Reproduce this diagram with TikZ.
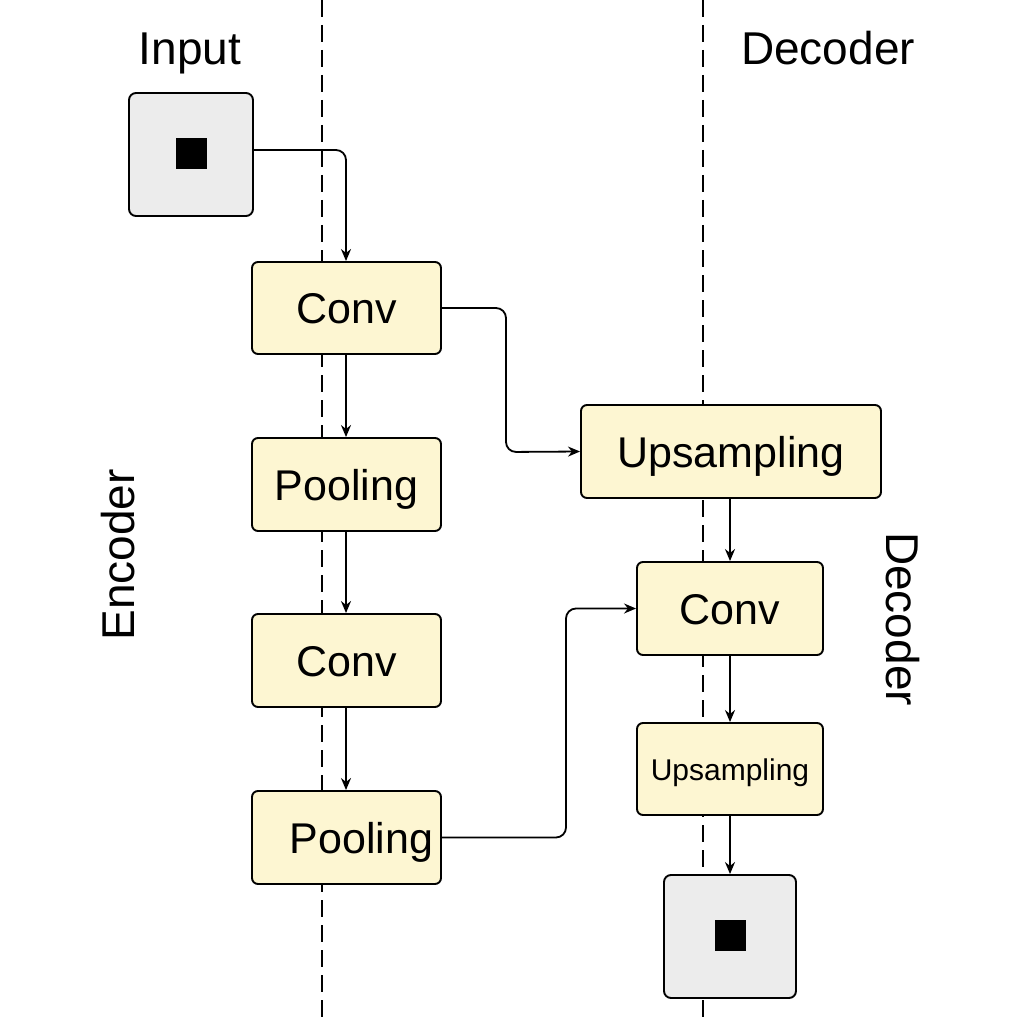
\documentclass[tikz,border=0pt]{standalone}
\usepackage{fontspec}
\setmainfont{Liberation Sans}
\usetikzlibrary{arrows.meta}
\definecolor{boxyellow}{HTML}{FDF6D2}
\definecolor{boxgray}{HTML}{ECECEC}
\begin{document}
\begin{tikzpicture}[x=1pt,y=-1pt,
  layer/.style={draw=black, line width=1.9pt, fill=boxyellow, rounded corners=6pt, inner sep=0pt, font=\fontsize{43}{47}\selectfont, text depth=0pt, text height=31pt},
  imgbox/.style={draw=black, line width=1.9pt, fill=boxgray, rounded corners=7pt, inner sep=0pt},
  pix/.style={fill=black, minimum size=31pt, inner sep=0pt},
  conn/.style={line width=1.8pt, rounded corners=10pt, -{Stealth[length=12pt,width=10pt]}},
  sep/.style={line width=1.3pt, dash pattern=on 17pt off 8pt},
  head/.style={font=\fontsize{46}{50}\selectfont, text depth=0pt, text height=33pt}
]
\useasboundingbox (0,0) rectangle (1024,1024);
\fill[white] (0,0) rectangle (1024,1024);
% separators
\coordinate (s1t) at (322,0); \coordinate (s1b) at (322,1024);
\coordinate (s2t) at (703,0); \coordinate (s2b) at (703,1024);
\draw[sep] (s1t) -- (s1b);
\draw[sep] (s2t) -- (s2b);
% headings
\node[head] (hin) at (190,48) {Input};
\node[head] (hdec) at (828,48) {Decoder};
\node[head, rotate=90] (henc) at (118,555) {Encoder};
\node[head, rotate=-90] (hdec2) at (903,619) {Decoder};
% input
\node[imgbox, minimum width=124pt, minimum height=123pt] (in) at (191,154.5) {};
\node[pix] (inpix) at (191.5,154) {};
% encoder
\node[layer, minimum width=189pt, minimum height=92pt] (c1) at (346.5,308) {Conv};
\node[layer, minimum width=189pt, minimum height=93pt] (p1) at (346.5,484.5) {Pooling};
\node[layer, minimum width=189pt, minimum height=93pt] (c2) at (346.5,660.5) {Conv};
\node[layer, minimum width=189pt, minimum height=93pt] (p2) at (346.5,837.5) {\hspace*{30pt}Pooling};
% decoder
\node[layer, minimum width=300pt, minimum height=93pt] (u1) at (731,451.5) {Upsampling};
\node[layer, minimum width=186pt, minimum height=93pt] (c3) at (730,608.5) {Conv};
\node[layer, minimum width=186pt, minimum height=92pt, font=\fontsize{30}{33}\selectfont, text height=22pt] (u2) at (730,769) {Upsampling};
\node[imgbox, minimum width=132pt, minimum height=123pt] (out) at (730,936.5) {};
\node[pix] (outpix) at (730,935) {};
% connectors
\draw[conn] (in.east |- 0,150) -| (c1.north -| 346,0);
\draw[conn] (c1.south -| 346,0) -- (p1.north -| 346,0);
\draw[conn] (p1.south -| 346,0) -- (c2.north -| 346,0);
\draw[conn] (c2.south -| 346,0) -- (p2.north -| 346,0);
\draw[conn] (c1.east) -- (506,308) -- (506,452) -- (u1.west);
\draw[conn] (u1.south -| c3.north) -- (c3.north);
\draw[conn] (p2.east) -- (566,837.5) -- (566,608.5) -- (c3.west);
\draw[conn] (c3.south) -- (u2.north);
\draw[conn] (u2.south) -- (out.north);
\end{tikzpicture}
\end{document}
